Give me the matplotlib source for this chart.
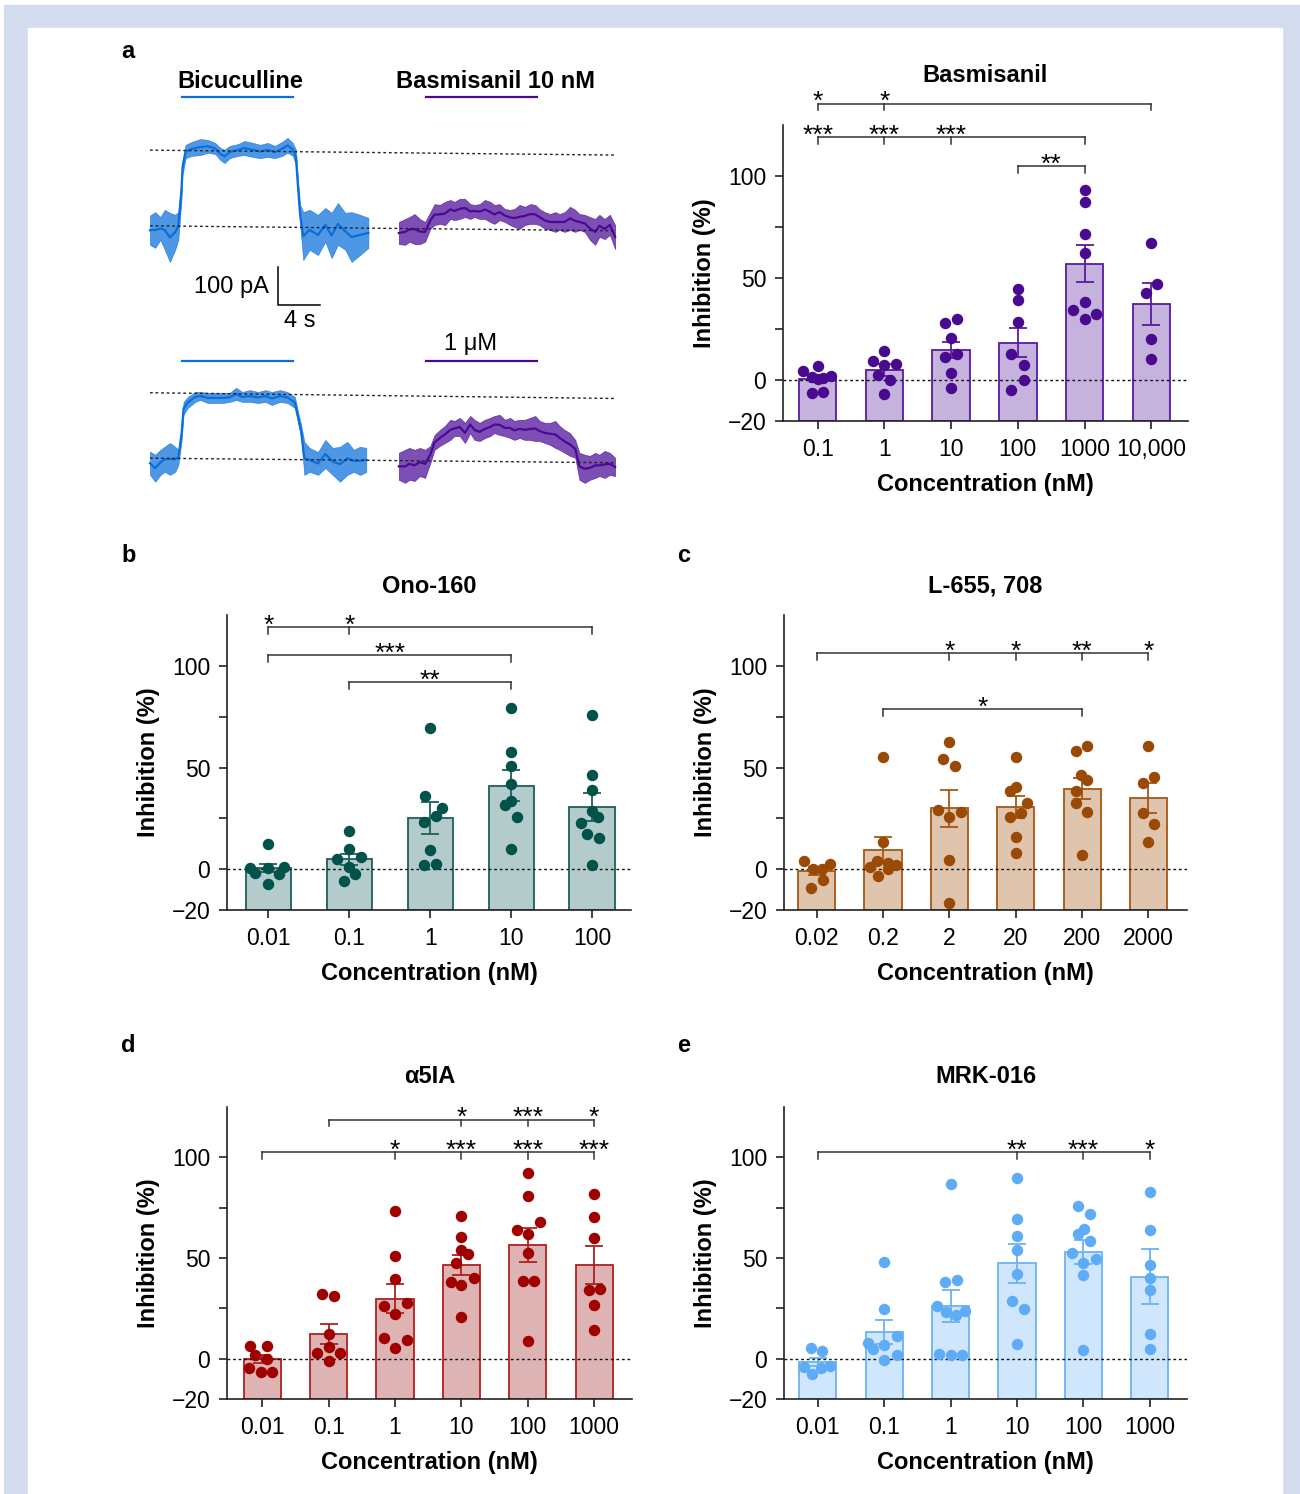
import numpy as np
import matplotlib.pyplot as plt
from matplotlib.patches import Rectangle

plt.rcParams['font.family'] = ['Liberation Sans', 'DejaVu Sans']

# ---------------- panel a: example currents (time in s, current in pA above row baseline)
bic_t = [0.0, 0.5, 1.0, 1.4, 1.9, 2.4, 2.7, 3.0, 3.1, 3.4, 4.0, 4.8, 5.5, 6.2, 6.7, 7.1,
         7.6, 8.4, 9.0, 9.8, 10.5, 11.2, 11.9, 12.6, 13.1, 13.6, 13.9, 14.1, 14.3, 14.6,
         15.2, 16.0, 16.7, 17.3, 17.9, 18.6, 19.2, 20.0, 20.8]
bic1_hi = [30, 39, 26, 45, 37, 32, 39, 124, 176, 216, 224, 231, 229, 221, 208, 203, 213, 218,
           226, 221, 216, 221, 213, 224, 234, 221, 203, 124, 58, 39, 45, 32, 50, 37, 63, 37,
           39, 32, 24]
bic1_lo = [-47, -55, -34, -60, -92, -60, -34, 71, 137, 181, 187, 189, 195, 192, 176, 168, 181,
           187, 189, 184, 181, 184, 181, 187, 195, 187, 163, 84, 5, -87, -60, -74, -39, -82,
           -47, -60, -92, -74, -55]

bic2_t = [0.0, 0.5, 1.0, 1.4, 1.9, 2.4, 2.7, 3.0, 3.2, 3.6, 4.3, 4.8, 5.5, 6.2, 6.9, 7.6, 8.2,
          8.8, 9.5, 10.3, 11.0, 11.6, 12.4, 13.1, 13.8, 14.1, 14.4, 14.7, 15.2, 16.0, 16.7,
          17.4, 18.1, 18.8, 19.4, 20.0, 20.6]
bic2_hi = [19, 11, 24, 32, 42, 32, 24, 82, 150, 163, 176, 176, 174, 174, 174, 174, 187, 176,
           181, 176, 181, 176, 181, 176, 163, 124, 89, 45, 29, 18, 50, 29, 32, 45, 24, 32, 29]
bic2_lo = [-42, -60, -42, -34, -42, -34, -16, 45, 116, 134, 150, 155, 147, 147, 147, 150, 155,
           150, 150, 147, 150, 142, 150, 147, 134, 97, 55, -42, -34, -42, -24, -42, -60, -42,
           -34, -42, -34]

bas_t = [0.0, 0.6, 1.0, 1.5, 2.0, 2.5, 3.0, 3.4, 3.9, 4.4, 4.9, 5.3, 5.8, 6.3, 6.8, 7.2, 7.7,
         8.2, 8.7, 9.1, 9.6, 10.1, 10.6, 11.0, 11.5, 12.0, 12.5, 13.0, 13.4, 13.9, 14.4, 14.9,
         15.3, 15.8, 16.3, 16.8, 17.2, 17.7, 18.2, 18.7, 19.1, 19.6, 20.1, 20.6]
bas1_hi = [13, 21, 26, 34, 21, 13, 39, 60, 58, 66, 71, 66, 74, 74, 60, 58, 60, 71, 66, 58, 60,
           47, 45, 47, 58, 53, 60, 58, 47, 39, 34, 39, 34, 39, 53, 45, 34, 32, 26, 21, 32, 21,
           32, 5]
bas1_lo = [-45, -47, -39, -45, -45, -39, -5, 5, 8, 5, 21, 18, 21, 26, 21, 26, 21, 21, 13, 8, 18,
           13, 5, 0, -5, 5, 8, 8, 5, -5, -8, -13, -8, -13, -8, -13, -8, -13, -34, -47, -26,
           -32, -21, -58]
bas2_hi = [16, 24, 29, 24, 29, 24, 34, 63, 76, 87, 103, 100, 108, 95, 113, 103, 95, 103, 108,
           113, 116, 103, 108, 100, 103, 103, 108, 113, 100, 95, 95, 100, 87, 76, 68, 50, 16,
           11, 8, 16, 11, 21, 16, 3]
bas2_lo = [-55, -63, -55, -58, -45, -50, -11, 24, 34, 42, 50, 60, 60, 42, 68, 50, 47, 55, 60,
           68, 63, 60, 55, 50, 55, 50, 50, 47, 47, 42, 37, 29, 24, 16, 8, 3, -55, -63, -55,
           -50, -45, -50, -42, -45]

# dotted guide levels (left end, right end) for each row
guide_top = [(202, 189), (3, -10)]
guide_bot = [(174, 159), (2, -10)]

# ---------------- bar panels: inhibition (%)
bas_conc = ['0.1', '1', '10', '100', '1000', '10,000']
bas_mean = [0.5, 4.9, 14.8, 18.4, 57.1, 37.4]
bas_sem = [1.6, 2.8, 4.1, 7.1, 9.1, 10.2]
bas_pts = [[6.7, 4.6, 2.1, 1.6, 1.0, 0.5, -5.6, -6.1],
           [14.4, 9.2, 7.2, 7.9, 2.5, 0.0, -6.6],
           [28.2, 30.2, 20.5, 11.2, 12.8, 3.3, -3.6],
           [44.8, 39.1, 28.7, 12.8, 7.6, 0.0, -4.9],
           [93.3, 87.5, 71.6, 62.1, 38.1, 34.2, 32.5, 30.0],
           [67.0, 47.3, 42.7, 20.0, 10.2]]
bas_jit = [[0, -0.215, 0.2, -0.085, 0.085, 0, 0.085, -0.085],
           [0, -0.175, 0, 0.175, -0.09, 0.085, 0],
           [-0.085, 0.085, 0, -0.09, 0.085, 0, 0],
           [0, 0, 0, -0.1, 0.085, 0.085, -0.1],
           [0, 0, 0, 0, 0, -0.175, 0.165, 0],
           [0, 0.09, -0.085, 0, 0]]

ono_conc = ['0.01', '0.1', '1', '10', '100']
ono_mean = [0.8, 4.9, 25.2, 41.1, 30.6]
ono_sem = [2.0, 2.8, 8.0, 7.5, 7.0]
ono_pts = [[12.5, 0.8, 0.8, 1.3, -1.6, -2.5, -7.4],
           [18.6, 9.9, 4.9, 5.9, 1.3, -2.3, -5.8],
           [69.7, 35.9, 30.1, 26.3, 23.2, 9.5, 2.1, 2.6],
           [79.3, 57.6, 50.7, 41.9, 33.4, 31.4, 25.5, 9.9],
           [75.8, 46.2, 39.1, 28.9, 25.7, 23.0, 17.3, 15.6, 2.1]]
ono_jit = [[0, -0.22, 0, 0.2, -0.16, 0.13, 0],
           [0, 0, -0.15, 0.14, 0, 0.07, -0.07],
           [0, -0.07, 0.145, 0.07, -0.075, 0, -0.075, 0.07],
           [0, 0, 0, 0, 0, -0.075, 0.07, 0],
           [0, 0, 0, 0, 0.075, -0.14, -0.06, 0.08, 0]]

l655_conc = ['0.02', '0.2', '2', '20', '200', '2000']
l655_mean = [-1.0, 9.4, 29.9, 30.4, 39.7, 35.1]
l655_sem = [2.0, 6.5, 9.3, 5.4, 5.0, 7.2]
l655_pts = [[4.1, 2.5, 0.3, 0.3, -5.1, -9.4],
            [55.3, 13.6, 4.1, 3.3, 2.0, 1.1, 0.0, -3.4],
            [62.6, 54.2, 50.6, 29.1, 28.4, 25.5, 4.8, -16.4],
            [55.3, 40.7, 38.3, 32.5, 27.6, 25.5, 15.9, 7.9],
            [60.6, 58.1, 46.5, 44.0, 38.3, 32.5, 28.4, 7.1],
            [60.4, 45.5, 42.5, 27.6, 22.5, 13.6]]
l655_jit = [[-0.195, 0.2, -0.055, 0.08, 0.095, -0.08],
            [0, 0, -0.09, 0.08, 0.2, -0.2, 0.07, -0.07],
            [0, -0.09, 0.085, -0.175, 0.175, 0, 0, 0],
            [0, 0, -0.09, 0.165, 0.075, -0.09, 0, 0],
            [0.075, -0.095, -0.02, 0.075, -0.095, -0.095, 0.075, 0],
            [0, 0.085, -0.085, -0.085, 0.085, 0]]

a5_conc = ['0.01', '0.1', '1', '10', '100', '1000']
a5_mean = [0.0, 12.4, 29.8, 46.4, 56.4, 46.4]
a5_sem = [2.0, 5.0, 7.3, 5.0, 8.5, 9.5]
a5_pts = [[6.3, 6.3, 1.8, -0.3, -4.5, -6.6, -6.4],
          [32.2, 31.1, 12.4, 6.0, 3.0, 2.6, -1.2],
          [73.2, 51.2, 39.7, 26.1, 27.8, 22.3, 10.4, 9.3, 5.5],
          [71.1, 60.5, 54.2, 52.2, 47.6, 40.0, 38.0, 36.5, 20.5],
          [92.2, 80.7, 67.9, 64.1, 62.1, 52.6, 38.5, 38.5, 8.6],
          [82.0, 70.6, 60.0, 33.9, 34.4, 26.6, 14.5]]
a5_jit = [[-0.185, 0.065, -0.11, 0.065, -0.195, -0.02, 0.15],
          [-0.095, 0.08, 0, 0, -0.17, 0.165, 0],
          [0, 0, 0, -0.165, 0.175, 0, -0.165, 0.175, 0],
          [0, 0, 0, 0.1, -0.08, 0.185, -0.15, 0, 0],
          [0, 0, 0.185, -0.155, 0, 0, -0.07, 0.1, 0],
          [0, 0, 0, -0.085, 0.085, 0, 0]]

mrk_conc = ['0.01', '0.1', '1', '10', '100', '1000']
mrk_mean = [-1.7, 13.2, 26.3, 47.3, 52.9, 40.8]
mrk_sem = [2.0, 5.8, 8.0, 9.5, 6.0, 13.5]
mrk_pts = [[5.3, 4.0, -4.1, -4.6, -3.5, -7.4],
           [48.1, 24.8, 7.8, 5.0, 6.9, 11.4, 1.7, -0.5],
           [86.6, 38.0, 39.3, 26.3, 23.0, 21.8, 23.8, 2.5, 1.7, 1.7],
           [89.8, 69.6, 60.7, 54.0, 42.1, 28.6, 24.8, 7.4],
           [75.9, 71.7, 64.6, 61.7, 58.5, 52.4, 49.4, 47.3, 41.5, 4.1],
           [82.8, 64.0, 46.4, 40.0, 34.2, 12.2, 5.0]]
mrk_jit = [[-0.11, 0.065, -0.215, 0.05, 0.185, -0.085],
           [0, 0, -0.25, -0.165, 0, 0.185, 0.185, 0],
           [0, -0.085, 0.09, -0.2, -0.075, 0.075, 0.21, -0.175, 0, 0.175],
           [0, 0, 0, 0, 0, -0.075, 0.1, 0],
           [-0.08, 0.1, 0.01, -0.08, 0.095, -0.165, 0.185, 0, 0, 0],
           [0, 0, 0, 0, 0, 0, 0]]

# significance brackets: (height, start, end, drops, [(x, stars)])
bas_sig = [(135.5, 0, 5, [0, 1, 5], [(0, '*'), (1, '*')]),
           (119.2, 0, 4, [0, 1, 2, 4], [(0, '***'), (1, '***'), (2, '***')]),
           (104.8, 3, 4, [3, 4], [(3.5, '**')])]
ono_sig = [(119.0, 0, 4, [0, 1, 4], [(0, '*'), (1, '*')]),
           (105.4, 0, 3, [0, 3], [(1.5, '***')]),
           (92.0, 1, 3, [1, 3], [(2, '**')])]
l655_sig = [(106.4, 0, 5, [0, 2, 3, 4, 5], [(2, '*'), (3, '*'), (4, '**'), (5, '*')]),
            (78.7, 1, 4, [1, 4], [(2.5, '*')])]
a5_sig = [(118.7, 1, 5, [1, 3, 4, 5], [(3, '*'), (4, '***'), (5, '*')]),
          (102.6, 0, 5, [0, 2, 3, 4, 5], [(2, '*'), (3, '***'), (4, '***'), (5, '***')])]
mrk_sig = [(102.5, 0, 5, [0, 3, 4, 5], [(3, '**'), (4, '***'), (5, '*')])]

W, H = 1300, 1494
fig = plt.figure(figsize=(W / 100, H / 100), dpi=100)


def pbox(l, t, r, b):
    # pixel box -> figure fraction rect
    return [l / W, 1 - b / H, (r - l) / W, (b - t) / H]


fig.patches.append(Rectangle((4 / W, 0), 1 - 4 / W, 1 - 5 / H, transform=fig.transFigure,
                             color='#d3dcee', zorder=-10))
fig.patches.append(Rectangle((28 / W, 0), 1254 / W, 1 - 28 / H, transform=fig.transFigure,
                             color='white', zorder=-9))

BLUE = '#0a6fdb'
PURPLE = '#4b0a96'

# ---- traces
tr = fig.add_axes(pbox(140, 60, 625, 500))
tr.set_xlim(-0.95, 45.24)
tr.set_ylim(-718, 439)
tr.axis('off')
bas_x0 = 23.7     # start of basmisanil sweep (s)
row2 = -610       # baseline of the second row (pA)
for t, lo, hi, dx, dy, c in [(bic_t, bic1_lo, bic1_hi, 0, 0, BLUE),
                             (bas_t, bas1_lo, bas1_hi, bas_x0, 0, PURPLE),
                             (bic2_t, bic2_lo, bic2_hi, 0, row2, BLUE),
                             (bas_t, bas2_lo, bas2_hi, bas_x0, row2, PURPLE)]:
    t = np.array(t) + dx
    lo = np.array(lo) + dy
    hi = np.array(hi) + dy
    tr.fill_between(t, lo, hi, color=c, lw=0.5, alpha=0.72)
    tr.plot(t, (lo + hi) / 2, color=c, lw=1.6)
for lev, dy in [(guide_top, 0), (guide_bot, row2)]:
    for a, b in lev:
        tr.plot([0, 44.2], [a + dy, b + dy], color='#222222', lw=1.0, ls=(0, (2, 2)), zorder=5)
# drug application bars
tr.plot([3.05, 13.6], [342, 342], color=BLUE, lw=1.6)
tr.plot([26.3, 36.9], [342, 342], color=PURPLE, lw=1.6)
tr.plot([3.05, 13.6], [row2 + 258, row2 + 258], color=BLUE, lw=1.6)
tr.plot([26.3, 36.9], [row2 + 258, row2 + 258], color=PURPLE, lw=1.6)
tr.text(8.6, 366, 'Bicuculline', ha='center', va='baseline', fontsize=17, fontweight='bold')
tr.text(32.9, 366, 'Basmisanil 10 nM', ha='center', va='baseline', fontsize=17,
        fontweight='bold')
tr.text(30.5, row2 + 287, '1 \u03bcM', ha='center', va='baseline', fontsize=17)
# scale bar 4 s / 100 pA
tr.plot([12.19, 12.19, 16.19], [-105, -205, -205], color='k', lw=1.1)
tr.text(11.3, -158, '100 pA', ha='right', va='center', fontsize=17)
tr.text(14.3, -247, '4 s', ha='center', va='center', fontsize=17)


def bar_panel(box, conc, mean, sem, pts, jit, fill, edge, dot, title, title_y, xlim, sig):
    ax = fig.add_axes(box)
    x = np.arange(len(conc))
    base = -20
    ax.bar(x, np.array(mean) - base, bottom=base, width=0.56, color=fill, edgecolor=edge,
           lw=1.3, zorder=2)
    ax.errorbar(x, mean, yerr=sem, fmt='none', ecolor=edge, elinewidth=1.3, capsize=6.5,
                capthick=1.3, zorder=3)
    ax.axhline(0, color='#111111', lw=1.0, ls=(0, (2, 2)), zorder=3.5)
    for i, (vals, offs) in enumerate(zip(pts, jit)):
        ax.scatter(i + np.array(offs), vals, s=68, color=dot, lw=0, zorder=5)
    ax.set_xlim(*xlim)
    ax.set_ylim(-20, 125)
    for s in ['top', 'right']:
        ax.spines[s].set_visible(False)
    for s in ['left', 'bottom']:
        ax.spines[s].set_linewidth(1.2)
        ax.spines[s].set_color('#222222')
    ax.set_xticks(x, conc)
    ax.set_yticks([-20, 0, 50, 100])
    ax.set_yticks([25, 75], minor=True)
    ax.tick_params(which='both', length=6, width=1.2, color='#222222', labelsize=16.5, pad=6)
    ax.set_xlabel('Concentration (nM)', fontsize=17, fontweight='bold', labelpad=9)
    ax.set_ylabel('Inhibition (%)', fontsize=17, fontweight='bold', labelpad=8)
    ax.text(0.5, title_y, title, transform=ax.transAxes, ha='center', va='baseline',
            fontsize=17, fontweight='bold')
    for y, x0, x1, drops, stars in sig:
        ax.plot([x0, x1], [y, y], color='#333333', lw=1.1, clip_on=False, zorder=6)
        for d in drops:
            ax.plot([d, d], [y, y - 3.3], color='#333333', lw=1.1, clip_on=False, zorder=6)
        for sx, st in stars:
            ax.text(sx, y - 2.8, st, ha='center', va='baseline', fontsize=19, clip_on=False)
    return ax


bar_panel(pbox(783, 125, 1188, 421), bas_conc, bas_mean, bas_sem, bas_pts, bas_jit,
          '#c6b3dd', '#5a1aa0', '#4a0a8f', 'Basmisanil', 1.145, (-0.52, 5.55), bas_sig)
bar_panel(pbox(227, 615, 631, 910), ono_conc, ono_mean, ono_sem, ono_pts, ono_jit,
          '#b3cbcb', '#1d5f5b', '#00524a', 'Ono-160', 1.075, (-0.51, 4.48), ono_sig)
bar_panel(pbox(784, 615, 1187, 910), l655_conc, l655_mean, l655_sem, l655_pts, l655_jit,
          '#e0c5ae', '#a65710', '#9a4a05', 'L-655, 708', 1.075, (-0.49, 5.58), l655_sig)
bar_panel(pbox(227, 1107, 632, 1399), a5_conc, a5_mean, a5_sem, a5_pts, a5_jit,
          '#deb3b4', '#b02020', '#a00000', '\u03b15IA', 1.082, (-0.53, 5.57), a5_sig)
bar_panel(pbox(784, 1107, 1187, 1399), mrk_conc, mrk_mean, mrk_sem, mrk_pts, mrk_jit,
          '#cfe6fd', '#6bb3f5', '#5eacf5', 'MRK-016', 1.082, (-0.51, 5.56), mrk_sig)

for lab, px, py in [('a', 121, 58), ('b', 121, 562), ('c', 677, 562), ('d', 121, 1052),
                    ('e', 677, 1052)]:
    fig.text(px / W, 1 - py / H, lab, fontsize=17, fontweight='bold', va='baseline')

fig.savefig('out.png', dpi=100)
